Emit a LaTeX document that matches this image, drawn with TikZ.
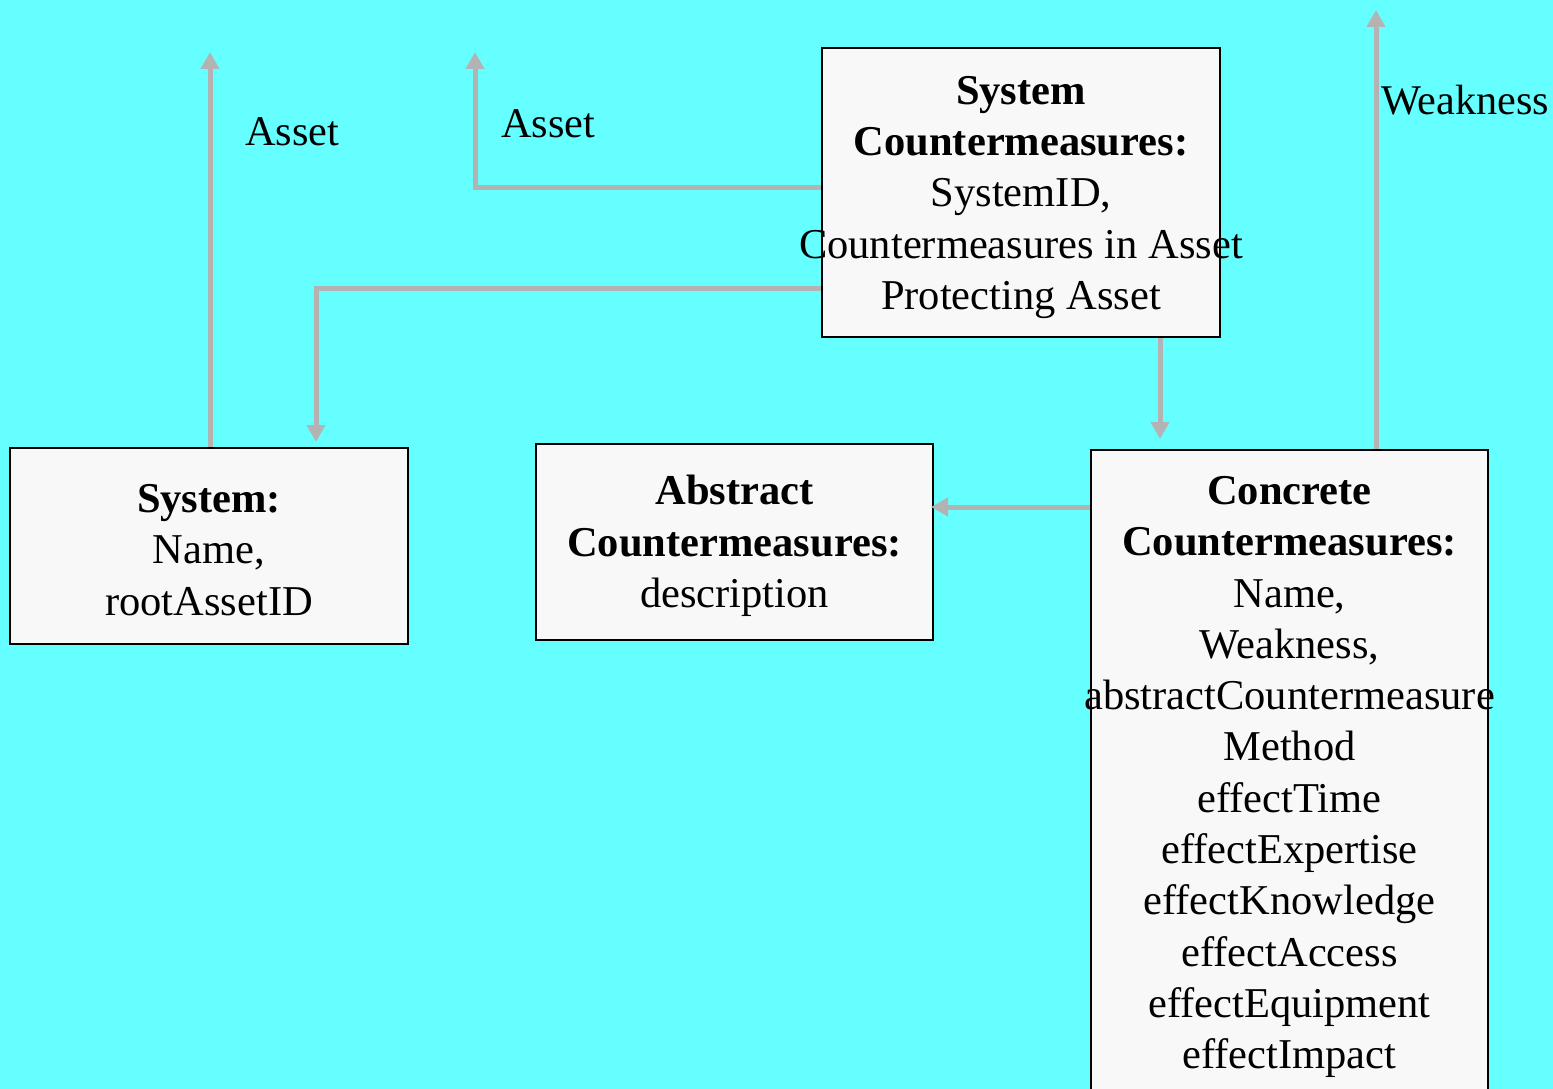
\documentclass[tikz,border=0pt]{standalone}
\usepackage{fontspec}
\setmainfont{Liberation Serif}
\usetikzlibrary{arrows.meta}
\definecolor{bgcyan}{HTML}{66FFFF}
\definecolor{boxfill}{HTML}{F8F8F8}
\definecolor{linkgray}{HTML}{B3B3B3}
\begin{document}
\begin{tikzpicture}[x=1pt,y=-1pt,
  entity/.style={draw=black,line width=2pt,fill=boxfill,rectangle,inner sep=0pt},
  entitytext/.style={inner sep=0pt,align=center,font=\fontsize{42.5}{51.3}\selectfont},
  conn/.style={draw=linkgray,line width=5pt,-{Triangle[length=17pt,width=18pt]}},
  lbl/.style={font=\fontsize{42.3}{51.3}\selectfont,inner sep=0pt}]
  % page and background
  \fill[bgcyan] (0,0) rectangle (1553,1089);
  \useasboundingbox (0,0) rectangle (1553,1089);

  % free ends of the outgoing links
  \coordinate (assetA) at (210,52);
  \coordinate (assetB) at (475,52);
  \coordinate (weak) at (1376,10);

  % entity boxes
  \node[entity,minimum width=398pt,minimum height=289pt] (sc) at (1021,192.5) {};
  \node[entity,minimum width=398pt,minimum height=196pt] (sys) at (209,546) {};
  \node[entity,minimum width=397pt,minimum height=196pt] (abs) at (734.5,542) {};
  \node[entity,minimum width=397pt,minimum height=646pt] (con) at (1289.5,773) {};

  % entity contents (may run over the box edges)
  \node[entitytext] (sctext) at ([yshift=-5pt]sc.center)
    {\textbf{System}\\\textbf{Countermeasures:}\\SystemID,\\Countermeasures in Asset\\Protecting Asset};
  \node[entitytext] (systext) at ([yshift=-4pt]sys.center)
    {\textbf{System:}\\Name,\\rootAssetID};
  \node[entitytext] (abstext) at ([yshift=-4pt]abs.center)
    {\textbf{Abstract}\\\textbf{Countermeasures:}\\description};
  \node[entitytext] (context) at ([yshift=-4pt]con.center)
    {\textbf{Concrete}\\\textbf{Countermeasures:}\\Name,\\Weakness,\\abstractCountermeasure\\Method\\effectTime\\effectExpertise\\effectKnowledge\\effectAccess\\effectEquipment\\effectImpact};

  % links
  \draw[conn] (sys.north -| assetA) -- (assetA);
  \draw[conn] (sc.west |- 0,187) -| (assetB);
  \draw[conn,shorten >=5pt] (sc.west |- 0,288) -| (sys.north -| 316,0);
  \draw[conn,shorten >=10pt] (sc.south -| 1160,0) -- (con.north -| 1160,0);
  \draw[conn,shorten >=-3pt] (con.west |- 0,507) -- (abs.east |- 0,507);
  \draw[conn] (con.north -| weak) -- (weak);

  % link labels
  \node[lbl,anchor=base west] (lblA) at (245,146) {Asset};
  \node[lbl,anchor=base west] (lblB) at (501,138) {Asset};
  \node[lbl,anchor=base west] (lblW) at (1381,115) {Weakness};
\end{tikzpicture}
\end{document}
